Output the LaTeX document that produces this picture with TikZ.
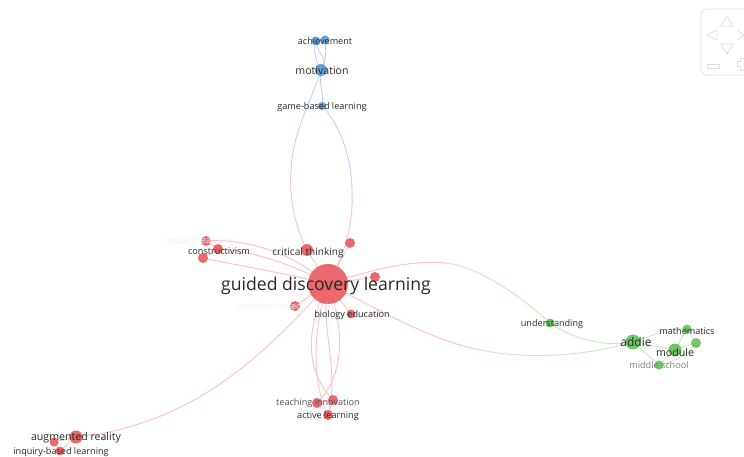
\documentclass[tikz,border=0pt]{standalone}
\usepackage{fontspec}
\setmainfont{Open Sans}
\definecolor{rednode}{RGB}{233,90,93}
\definecolor{rededge}{RGB}{247,195,195}
\definecolor{bluenode}{RGB}{84,152,212}
\definecolor{blueedge}{RGB}{190,212,238}
\definecolor{greennode}{RGB}{98,192,92}
\definecolor{greenedge}{RGB}{200,234,190}
\definecolor{txt}{RGB}{40,40,40}
\definecolor{ctrl}{RGB}{222,222,222}
\tikzset{
  dot/.style={circle,inner sep=0pt,draw=none,fill opacity=0.9},
  rdot/.style={dot,fill=rednode},
  bdot/.style={dot,fill=bluenode},
  gdot/.style={dot,fill=greennode},
  lbl/.style={text=txt,inner sep=0pt,yshift=-1.5pt},
  small/.style={font=\fontsize{9.1}{10}\selectfont},
  medium/.style={font=\fontsize{10.6}{12}\selectfont},
  redge/.style={draw=rededge,line width=0.9pt},
  bedge/.style={draw=blueedge,line width=0.9pt},
  gedge/.style={draw=greenedge,line width=0.9pt},
  ctl/.style={draw=ctrl,line width=0.8pt},
}
\begin{document}
\begin{tikzpicture}[x=1pt,y=-1pt]
\useasboundingbox (0,0) rectangle (744,457);
% ---------- dots (positions) ----------
\coordinate (gdl) at (328,284);
\coordinate (ach1) at (316,41);
\coordinate (ach2) at (325,40);
\coordinate (mot) at (321,70);
\coordinate (gbl) at (322,106);
\coordinate (ct) at (307,250);
\coordinate (cons) at (218,249);
\coordinate (inq) at (206,241);
\coordinate (c3) at (203,258);
\coordinate (d1) at (350,243);
\coordinate (d2) at (375,277);
\coordinate (prob) at (295,306);
\coordinate (bio) at (351,314);
\coordinate (ti1) at (317,403);
\coordinate (ti2) at (333,400);
\coordinate (al) at (328,415);
\coordinate (ar) at (76,437);
\coordinate (ar2) at (54,442);
\coordinate (ibl) at (60,451);
\coordinate (und) at (550,323);
\coordinate (addie) at (633,342);
\coordinate (math) at (687,329);
\coordinate (module) at (675,350);
\coordinate (g5) at (696,343);
\coordinate (ms) at (659,365);
\coordinate (mA) at (291,170);
\coordinate (mB) at (352,190);
\coordinate (mC) at (445,263);
\coordinate (mD) at (480,350);
% ---------- edges ----------
% blue cluster
\draw[bedge] (mot) .. controls (315,60) and (313,50) .. (ach1);
\draw[bedge] (mot) .. controls (327,60) and (326,50) .. (ach2);
\draw[bedge] (ach1) .. controls (318,55) and (330,60) .. (mot);
\draw[bedge] (mot) .. controls (318,85) and (325,95) .. (gbl);
% red-blue long curves
\draw[redge] (ct) .. controls (294,225) and (289,195) .. (mA);
\draw[bedge] (mA) .. controls (293,130) and (312,100) .. (mot);
\draw[redge] (gdl) .. controls (350,245) and (353,215) .. (mB);
\draw[bedge] (mB) .. controls (351,150) and (336,120) .. (gbl);
% red cluster
\draw[redge] (gdl) .. controls (290,250) and (240,238) .. (inq);
\draw[redge] (gdl) .. controls (290,262) and (245,250) .. (cons);
\draw[redge] (gdl) .. controls (280,272) and (235,265) .. (c3);
\draw[redge] (inq) -- (cons) -- (c3);
\draw[redge] (gdl) -- (ct);
\draw[redge] (gdl) -- (d1);
\draw[redge] (gdl) -- (d2);
\draw[redge] (gdl) -- (prob);
\draw[redge] (gdl) -- (bio);
\draw[redge] (gdl) .. controls (345,330) and (345,375) .. (ti1);
\draw[redge] (gdl) .. controls (305,330) and (305,370) .. (ti2);
\draw[redge] (gdl) .. controls (312,330) and (312,385) .. (al);
\draw[redge] (gdl) .. controls (320,330) and (340,370) .. (al);
\draw[redge] (ti1) -- (ti2) -- (al);
\draw[redge] (gdl) .. controls (260,360) and (190,425) .. (ar);
\draw[redge] (ar) -- (ar2) -- (ibl) -- (ar);
% red-green curves
\draw[redge] (gdl) .. controls (375,268) and (415,260) .. (mC);
\draw[gedge] (mC) .. controls (480,266) and (525,300) .. (und);
\draw[gedge] (und) .. controls (575,340) and (605,347) .. (addie);
\draw[redge] (gdl) .. controls (380,310) and (430,340) .. (mD);
\draw[gedge] (mD) .. controls (540,362) and (600,352) .. (addie);
% green cluster
\draw[gedge] (addie) .. controls (655,335) and (675,325) .. (math);
\draw[gedge] (addie) -- (module);
\draw[gedge] (addie) -- (ms);
\draw[gedge] (module) -- (math);
\draw[gedge] (module) -- (g5);
\draw[gedge] (math) -- (g5);
\draw[gedge] (ms) -- (module);
\draw[gedge] (ms) .. controls (680,360) and (690,352) .. (g5);
% ---------- nodes ----------
\node[rdot,minimum size=40pt] (nGdl) at (gdl) {};
\node[bdot,minimum size=9pt] (nAch1) at (ach1) {};
\node[bdot,minimum size=9pt] (nAch2) at (ach2) {};
\node[bdot,minimum size=12pt] (nMot) at (mot) {};
\node[bdot,minimum size=8pt] (nGbl) at (gbl) {};
\node[rdot,minimum size=12pt] (nCt) at (ct) {};
\node[rdot,minimum size=10pt] (nCons) at (cons) {};
\node[rdot,minimum size=10pt] (nInq) at (inq) {};
\node[rdot,minimum size=10pt] (nC3) at (c3) {};
\node[rdot,minimum size=10pt] (nD1) at (d1) {};
\node[rdot,minimum size=10pt] (nD2) at (d2) {};
\node[rdot,minimum size=10pt] (nProb) at (prob) {};
\node[rdot,minimum size=9pt] (nBio) at (bio) {};
\node[rdot,minimum size=10pt] (nTi1) at (ti1) {};
\node[rdot,minimum size=10pt] (nTi2) at (ti2) {};
\node[rdot,minimum size=10pt] (nAl) at (al) {};
\node[rdot,minimum size=13pt] (nAr) at (ar) {};
\node[rdot,minimum size=9pt] (nAr2) at (ar2) {};
\node[rdot,minimum size=9pt] (nIbl) at (ibl) {};
\node[gdot,minimum size=9pt] (nUnd) at (und) {};
\node[gdot,minimum size=15pt] (nAddie) at (addie) {};
\node[gdot,minimum size=9pt] (nMath) at (math) {};
\node[gdot,minimum size=13pt] (nModule) at (module) {};
\node[gdot,minimum size=10pt] (nG5) at (g5) {};
\node[gdot,minimum size=9pt] (nMs) at (ms) {};
% ---------- labels ----------
\node[lbl,font=\fontsize{17.6}{19}\selectfont] (tGdl) at (326,284) {guided discovery learning};
\node[lbl,small] (tAch) at (325,40) {achievement};
\node[lbl,medium] (tMot) at (322,69) {motivation};
\node[lbl,small] (tGbl) at (322,106) {game-based learning};
\node[lbl,font=\fontsize{10.1}{11}\selectfont] (tCt) at (308,251) {critical thinking};
\node[lbl,small] (tCons) at (219,250) {constructivism};
\node[lbl,small,text=txt!8] (tInq) at (200,240) {inquiry learning};
\node[lbl,small,text=txt!6] (tProb) at (288,306) {problem-based learning};
\node[lbl,small] (tBio) at (352,314) {biology education};
\node[lbl,small,text=txt!80] (tTi) at (318,402) {teaching innovation};
\node[lbl,small] (tAl) at (328,415) {active learning};
\node[lbl,medium] (tAr) at (76,436) {augmented reality};
\node[lbl,small] (tIbl) at (61,451) {inquiry-based learning};
\node[lbl,small] (tUnd) at (552,323) {understanding};
\node[lbl,font=\fontsize{12}{13}\selectfont] (tAddie) at (636,340) {addie};
\node[lbl,medium] (tModule) at (675,351) {module};
\node[lbl,small] (tMath) at (687,330) {mathematics};
\node[lbl,small,text=txt!60] (tMs) at (659,364) {middle school};
% ---------- navigation control ----------
\draw[ctl,rounded corners=6pt] (701,9) rectangle (752,75);
\draw[ctl,line join=round] (721,26) -- (727,16) -- (733,26) -- cycle;
\draw[ctl,line join=round] (721,44) -- (727,54) -- (733,44) -- cycle;
\draw[ctl,line join=round] (717,30) -- (707,35) -- (717,40) -- cycle;
\draw[ctl,line join=round] (737,30) -- (744,35) -- (737,40);
\draw[ctl] (707,64) rectangle (719,68);
\draw[ctl] (737,61) -- (740,61) -- (740,58) -- (744,58);
\draw[ctl] (737,61) -- (737,66) -- (740,66) -- (740,70) -- (744,70);
\end{tikzpicture}
\end{document}
